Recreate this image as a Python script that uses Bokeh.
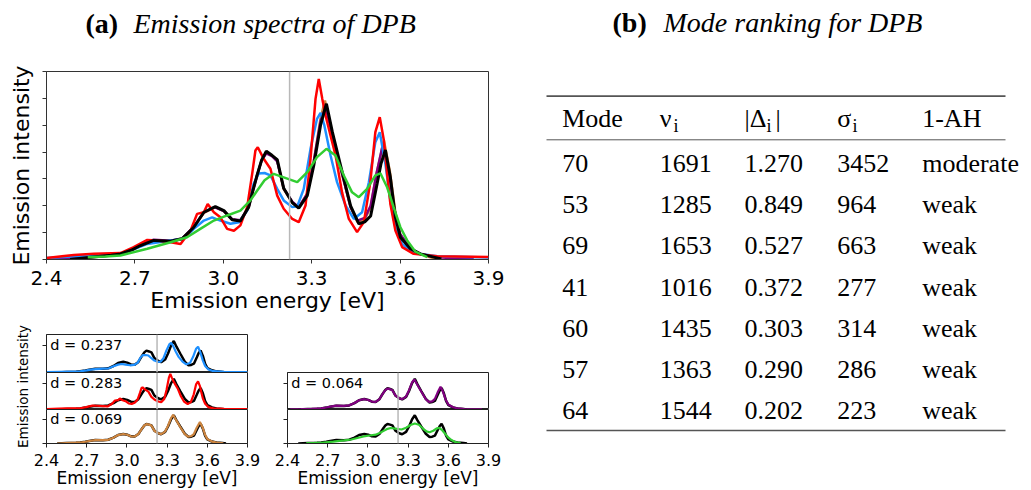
import math
from bokeh.plotting import figure
from bokeh.layouts import row, column
from bokeh.models import (FixedTicker, Range1d, Span, Label, PrintfTickFormatter,
                          CustomLabelingPolicy)
from bokeh.core.properties import value
from bokeh.embed import file_html
from bokeh.resources import INLINE

# ---------------- data ----------------
X_TICKS = [2.4, 2.7, 3.0, 3.3, 3.6, 3.9]
Y_TICKS_MAIN = [0, 1, 2, 3, 4, 5, 6, 7]
Y_TICKS_SMALL = [0, 5]
ZERO_LINE = 3.225

E_black = [2.48, 2.55, 2.62, 2.651, 2.69, 2.719, 2.764, 2.821, 2.86, 2.90, 2.934, 2.973, 3.002, 3.030,
           3.058, 3.086, 3.10, 3.115, 3.13, 3.146, 3.165, 3.183, 3.205, 3.234, 3.256, 3.285, 3.307, 3.33,
           3.35, 3.37, 3.398, 3.432, 3.46, 3.48, 3.50, 3.522, 3.535, 3.550, 3.567, 3.584, 3.601, 3.635,
           3.669, 3.714, 3.74]
I_black = [0.00, 0.08, 0.16, 0.21, 0.36, 0.52, 0.71, 0.68, 0.77, 1.20, 1.76, 1.97, 1.82, 1.48,
           1.43, 1.95, 2.55, 3.15, 3.70, 4.03, 3.88, 3.72, 2.65, 2.12, 1.91, 2.38, 3.50, 5.00,
           5.80, 4.75, 3.50, 2.00, 1.33, 1.40, 1.62, 2.82, 3.56, 4.08, 3.06, 1.58, 0.83, 0.40,
           0.21, 0.09, 0.02]

E_purple = [2.42, 2.50, 2.58, 2.651, 2.69, 2.719, 2.764, 2.821, 2.86, 2.90, 2.934, 2.97, 3.002, 3.030,
            3.058, 3.086, 3.10, 3.115, 3.13, 3.146, 3.165, 3.183, 3.205, 3.234, 3.256, 3.285, 3.307,
            3.33, 3.347, 3.37, 3.398, 3.432, 3.455, 3.48, 3.50, 3.52, 3.542, 3.56, 3.58, 3.60, 3.635,
            3.67, 3.72, 3.78, 3.85]
I_purple = [0.02, 0.06, 0.12, 0.21, 0.38, 0.55, 0.74, 0.70, 0.78, 1.22, 1.75, 1.95, 1.80, 1.50,
            1.46, 1.95, 2.55, 3.15, 3.68, 3.95, 3.85, 3.65, 2.65, 2.15, 1.95, 2.45, 3.65,
            5.15, 5.67, 4.65, 3.40, 1.95, 1.45, 1.55, 2.00, 3.20, 4.31, 3.40, 1.90, 0.95, 0.42,
            0.20, 0.09, 0.05, 0.02]

E_orange = [2.48, 2.55, 2.62, 2.651, 2.69, 2.719, 2.764, 2.821, 2.86, 2.90, 2.934, 2.973, 3.002, 3.030,
            3.058, 3.086, 3.10, 3.115, 3.13, 3.146, 3.165, 3.183, 3.205, 3.234, 3.256, 3.285, 3.307,
            3.33, 3.345, 3.37, 3.398, 3.432, 3.455, 3.48, 3.50, 3.52, 3.545, 3.565, 3.584, 3.601,
            3.635, 3.669, 3.72]
I_orange = [0.00, 0.08, 0.16, 0.21, 0.36, 0.52, 0.71, 0.68, 0.76, 1.20, 1.74, 1.95, 1.80, 1.48,
            1.44, 1.95, 2.55, 3.15, 3.70, 4.00, 3.88, 3.70, 2.62, 2.12, 1.93, 2.45, 3.65,
            5.25, 5.92, 4.70, 3.40, 1.95, 1.40, 1.50, 1.95, 3.20, 4.43, 3.30, 1.75, 0.90,
            0.40, 0.20, 0.02]

E_red = [2.40, 2.493, 2.561, 2.651, 2.696, 2.742, 2.776, 2.821, 2.855, 2.889, 2.911, 2.934, 2.947, 2.968,
         2.99, 3.013, 3.036, 3.058, 3.081, 3.098, 3.109, 3.117, 3.137, 3.160, 3.183, 3.205, 3.234,
         3.256, 3.279, 3.296, 3.313, 3.324, 3.336, 3.347, 3.364, 3.381, 3.403, 3.426, 3.454, 3.477,
         3.499, 3.516, 3.531, 3.545, 3.556, 3.567, 3.584, 3.607, 3.646, 3.726, 3.90]
I_red = [0.06, 0.17, 0.21, 0.24, 0.46, 0.73, 0.71, 0.64, 0.58, 1.08, 1.70, 1.76, 2.07, 1.76,
         1.57, 1.14, 1.07, 1.27, 1.95, 3.19, 4.06, 4.18, 3.75, 3.38, 2.38, 1.89, 1.51,
         1.39, 2.01, 3.75, 5.98, 6.72, 5.98, 5.36, 4.61, 3.87, 2.50, 1.51, 1.02, 1.39,
         2.88, 4.74, 5.30, 4.43, 3.19, 2.07, 1.08, 0.46, 0.21, 0.12, 0.09]

E_blue = [2.40, 2.50, 2.58, 2.651, 2.70, 2.742, 2.821, 2.866, 2.90, 2.934, 2.962, 2.99, 3.024, 3.053,
          3.081, 3.103, 3.12, 3.14, 3.16, 3.183, 3.205, 3.234, 3.251, 3.273, 3.296, 3.318, 3.330,
          3.343, 3.364, 3.386, 3.415, 3.443, 3.471, 3.494, 3.516, 3.531, 3.550, 3.567, 3.584, 3.607,
          3.646, 3.726, 3.90]
I_blue = [0.06, 0.12, 0.17, 0.21, 0.40, 0.58, 0.71, 0.77, 1.14, 1.45, 1.57, 1.45, 1.33, 1.39,
          1.82, 2.82, 3.20, 3.22, 3.13, 2.63, 2.20, 1.95, 1.98, 2.63, 4.12, 5.24, 5.46,
          4.99, 3.87, 2.88, 2.01, 1.51, 1.76, 2.88, 4.37, 4.74, 3.56, 2.20, 1.20, 0.58,
          0.24, 0.12, 0.07]

E_green = [2.54, 2.60, 2.651, 2.742, 2.821, 2.877, 2.922, 2.968, 3.013, 3.058, 3.092, 3.114, 3.14, 3.171,
           3.205, 3.251, 3.285, 3.318, 3.35, 3.381, 3.409, 3.437, 3.46, 3.488, 3.516, 3.533, 3.556,
           3.578, 3.601, 3.624, 3.652, 3.692]
I_green = [0.08, 0.11, 0.15, 0.40, 0.64, 0.83, 1.14, 1.45, 1.64, 1.82, 2.20, 2.55, 2.95, 3.19,
           3.06, 2.88, 3.25, 3.81, 4.12, 3.87, 3.13, 2.50, 2.32, 2.63, 3.13, 3.21, 2.69,
           1.95, 1.20, 0.71, 0.29, 0.09]

COL_BLACK = "#000000"
COL_RED = "#ff0000"
COL_BLUE = "#1e90ff"
COL_GREEN = "#32cd32"
COL_PURPLE = "#800080"
COL_ORANGE = "#cd853f"

# small panels: (colour, energies, intensities, label)
panel_blue = (COL_BLUE, E_blue, I_blue, "d = 0.237")
panel_red = (COL_RED, E_red, I_red, "d = 0.283")
panel_orange = (COL_ORANGE, E_orange, I_orange, "d = 0.069")
panel_purple = (COL_PURPLE, E_purple, I_purple, "d = 0.064")
panel_green = (COL_GREEN, E_green, I_green, "")

# table
TABLE_HEAD = ["Mode", "\u03bd", "|\u0394", "\u03c3", "1-AH"]
modes = ["70", "53", "69", "41", "60", "57", "64"]
nu_i = [1691, 1285, 1653, 1016, 1435, 1363, 1544]
delta_i = [1.270, 0.849, 0.527, 0.372, 0.303, 0.290, 0.202]
sigma_i = [3452, 964, 663, 277, 314, 286, 223]
anharm = ["moderate", "weak", "weak", "weak", "weak", "weak", "weak"]

SANS = "DejaVu Sans"
SERIF = "Liberation Serif"


def blank_fig(w, h, xr, yr, mbl=0, mbr=0):
    p = figure(width=w, height=h, x_range=Range1d(*xr), y_range=Range1d(*yr),
               output_backend="svg", toolbar_location=None,
               x_axis_location=None, y_axis_location=None,
               min_border_left=mbl, min_border_right=mbr, min_border_top=0, min_border_bottom=0)
    p.grid.visible = False
    p.outline_line_color = None
    p.background_fill_color = None
    p.border_fill_color = None
    return p


def style_x(ax, tick_size, lab_size, tick_standoff, lab_standoff, color):
    ax.ticker = FixedTicker(ticks=X_TICKS)
    ax.formatter = PrintfTickFormatter(format="%.1f")
    ax.major_label_text_font = SANS
    ax.major_label_text_font_size = tick_size
    ax.major_label_text_color = "#000000"
    ax.major_label_standoff = tick_standoff
    ax.axis_label = "Emission energy [eV]"
    ax.axis_label_text_font = SANS
    ax.axis_label_text_font_style = "normal"
    ax.axis_label_text_font_size = lab_size
    ax.axis_label_text_color = "#000000"
    ax.axis_label_standoff = lab_standoff
    ax.major_tick_out = 4
    ax.major_tick_in = 0
    ax.minor_tick_out = 0
    ax.minor_tick_in = 0
    ax.axis_line_color = color
    ax.major_tick_line_color = color


def style_y(ax, ticks, color):
    ax.ticker = FixedTicker(ticks=ticks)
    ax.major_label_policy = CustomLabelingPolicy(code="return new Set()")
    ax.major_label_standoff = 0
    ax.major_tick_out = 4
    ax.major_tick_in = 0
    ax.minor_tick_out = 0
    ax.minor_tick_in = 0
    ax.axis_line_color = color
    ax.major_tick_line_color = color


# ---------------- title strip (a) ----------------
# frame spans page x 46..488 (aligned with the main plot frame), data = page pixels
title_a = blank_fig(520, 50, (46, 488), (50, 0), mbl=46, mbr=32)
title_a.text(x=[85], y=[23], text=["(a)"], text_font=value(SERIF), text_font_style="bold",
             text_font_size="28px", text_align="left", text_baseline="middle", text_color="#000000")
title_a.text(x=[133], y=[23], text=["Emission spectra of DPB"], text_font=value(SERIF),
             text_font_style="italic", text_font_size="28px", text_align="left",
             text_baseline="middle", text_color="#000000")

# ---------------- main spectrum ----------------
main = figure(width=520, height=272, x_range=Range1d(2.4, 3.9), y_range=Range1d(0, 7),
              output_backend="svg", toolbar_location=None,
              min_border_left=46, min_border_right=32, min_border_top=21, min_border_bottom=63)
main.grid.visible = False
main.outline_line_color = "#333333"
main.outline_line_width = 1
style_x(main.xaxis[0], "20px", "22px", 7, 0, "#333333")
style_y(main.yaxis[0], Y_TICKS_MAIN, "#333333")
main.yaxis[0].axis_label = "Emission intensity"
main.yaxis[0].axis_label_text_font = SANS
main.yaxis[0].axis_label_text_font_style = "normal"
main.yaxis[0].axis_label_text_font_size = "22px"
main.yaxis[0].axis_label_text_color = "#000000"
main.yaxis[0].axis_label_standoff = -1
main.add_layout(Span(location=ZERO_LINE, dimension="height", line_color="#b8b8b8", line_width=1.5))
main.line(E_orange, I_orange, line_color=COL_ORANGE, line_width=2.5)
main.line(E_purple, I_purple, line_color=COL_PURPLE, line_width=2.5)
main.line(E_blue, I_blue, line_color=COL_BLUE, line_width=2.5)
main.line(E_red, I_red, line_color=COL_RED, line_width=2.5)
main.line(E_black, I_black, line_color=COL_BLACK, line_width=3)
main.line(E_green, I_green, line_color=COL_GREEN, line_width=2.5)


# ---------------- small panels ----------------
def panel(w, h, mbl, mbr, mbt, mbb, spec, xaxis):
    col, ex, iy, lab = spec
    p = figure(width=w, height=h, x_range=Range1d(2.4, 3.9), y_range=Range1d(0, 7),
               output_backend="svg", toolbar_location=None,
               x_axis_location="below" if xaxis else None,
               min_border_left=mbl, min_border_right=mbr, min_border_top=mbt, min_border_bottom=mbb)
    p.grid.visible = False
    p.outline_line_color = "#222222"
    p.outline_line_width = 1
    style_y(p.yaxis[0], Y_TICKS_SMALL, "#222222")
    if xaxis:
        style_x(p.xaxis[0], "16px", "17px", 6, -1, "#222222")
    p.add_layout(Span(location=ZERO_LINE, dimension="height", line_color="#b8b8b8", line_width=1.5))
    p.line(E_black, I_black, line_color=COL_BLACK, line_width=2.5)
    p.line(ex, iy, line_color=col, line_width=2.2)
    if lab:
        p.add_layout(Label(x=2.428, y=5.05, text=lab, text_font=SANS, text_font_size="14.5px",
                           text_baseline="alphabetic", text_align="left", text_color="#000000"))
    return p


s1 = panel(235, 50, 14, 20, 12, 0, panel_blue, False)
s2 = panel(235, 37, 14, 20, 0, 0, panel_red, False)
s3 = panel(235, 81, 14, 20, 0, 43, panel_orange, True)
sA = panel(253, 87, 20, 32, 50, 0, panel_purple, False)
sB = panel(253, 81, 20, 32, 0, 43, panel_green, True)

ylab = blank_fig(32, 168, (0, 32), (0, 168))
ylab.text(x=[22], y=[104], text=["Emission intensity"], angle=math.pi / 2, text_font=value(SANS),
          text_font_size="13.5px", text_align="center", text_baseline="middle", text_color="#000000")

small = row(ylab, column(s1, s2, s3, spacing=0), column(sA, sB, spacing=0), spacing=0)
left = column(title_a, main, small, spacing=0)

# ---------------- table (b) ----------------
tab = blank_fig(511, 490, (520, 1031), (490, 0))
tab.text(x=[612], y=[22], text=["(b)"], text_font=value(SERIF), text_font_style="bold",
         text_font_size="28px", text_align="left", text_baseline="middle", text_color="#000000")
tab.text(x=[663], y=[22], text=["Mode ranking for DPB"], text_font=value(SERIF),
         text_font_style="italic", text_font_size="28px", text_align="left",
         text_baseline="middle", text_color="#000000")

col_x = [561.7, 659.3, 744.0, 836.7, 921.7]
head_mid = 118.0
row_mid0 = 163.0
row_step = 41.2
rule_x0, rule_x1 = 546, 1005
tab.segment(x0=[rule_x0, rule_x0, rule_x0], y0=[95.7, 139.3, 430.0],
            x1=[rule_x1, rule_x1, rule_x1], y1=[95.7, 139.3, 430.0],
            line_color="#555555", line_width=[1.7, 1.0, 1.7])

tab.text(x=col_x, y=[head_mid] * 5, text=TABLE_HEAD, text_font=value(SERIF), text_font_size="26px",
         text_align="left", text_baseline="middle", text_color="#000000")
# subscripts i and closing bar
tab.text(x=[673.0, 766.0, 852.0], y=[head_mid + 7] * 3, text=["i", "i", "i"], text_font=value(SERIF),
         text_font_size="18px", text_align="left", text_baseline="middle", text_color="#000000")
tab.text(x=[775.0], y=[head_mid], text=["|"], text_font=value(SERIF), text_font_size="26px",
         text_align="left", text_baseline="middle", text_color="#000000")

cols_txt = [modes, [str(v) for v in nu_i], ["%.3f" % v for v in delta_i],
            [str(v) for v in sigma_i], anharm]
for cx, vals in zip(col_x, cols_txt):
    ys = [row_mid0 + k * row_step for k in range(len(vals))]
    tab.text(x=[cx] * len(vals), y=ys, text=vals, text_font=value(SERIF), text_font_size="26px",
             text_align="left", text_baseline="middle", text_color="#000000")

root = row(left, tab, spacing=0)

open("out.html", "w").write(file_html(root, INLINE, "DPB emission spectra"))
